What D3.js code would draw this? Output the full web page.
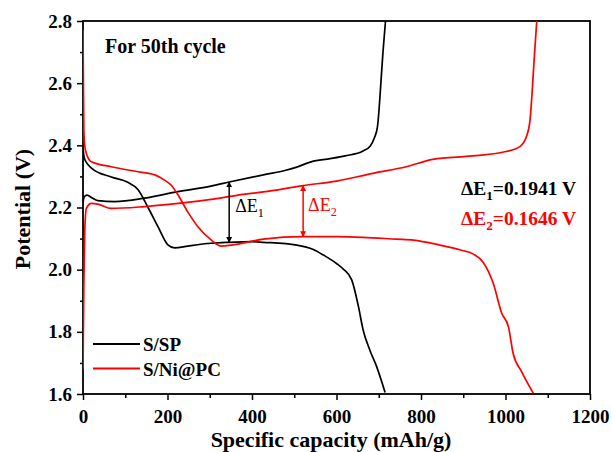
<!DOCTYPE html>
<html>
<head>
<meta charset="utf-8">
<script src="https://cdn.jsdelivr.net/npm/d3@7"></script>
<style>
  html, body { margin: 0; padding: 0; background: #fff; }
  svg { display: block; }
  svg text { font-family: "Liberation Serif", "Tinos", "DejaVu Serif", serif; }
</style>
</head>
<body>
<script>
// Charge / discharge profiles at the 50th cycle: [capacity mAh/g, potential V]
const spCharge = [
  [0, 2.215], [3, 2.235], [10, 2.240], [20, 2.232], [35, 2.222], [75, 2.219],
  [146, 2.230], [225, 2.251], [303, 2.269], [346, 2.282], [427, 2.305],
  [480, 2.320], [506, 2.330], [540, 2.347], [585, 2.357], [620, 2.366],
  [663, 2.382], [680, 2.398], [690, 2.425], [697, 2.46], [701, 2.52],
  [705, 2.6], [710, 2.7], [716, 2.8]
];
const spDischarge = [
  [0, 2.39], [3, 2.36], [8, 2.345], [20, 2.327], [67, 2.298], [106, 2.281],
  [130, 2.258], [154, 2.20], [178, 2.137], [201, 2.08], [217, 2.070],
  [248, 2.076], [303, 2.085], [346, 2.088], [400, 2.090], [427, 2.088],
  [506, 2.079], [545, 2.065], [569, 2.047], [600, 2.020], [616, 2.002],
  [636, 1.967], [652, 1.881], [663, 1.806], [679, 1.741], [695, 1.688],
  [715, 1.605]
];
const pcCharge = [
  [0, 1.68], [2, 1.95], [4, 2.12], [8, 2.197], [20, 2.213], [35, 2.211],
  [67, 2.197], [146, 2.203], [225, 2.213], [303, 2.226], [367, 2.240],
  [427, 2.250], [521, 2.2706], [600, 2.285], [686, 2.310], [765, 2.331],
  [828, 2.355], [922, 2.366], [1001, 2.380], [1034, 2.396], [1050, 2.43],
  [1058, 2.48], [1062, 2.55], [1068, 2.68], [1074, 2.8]
];
const pcDischarge = [
  [0, 2.77], [1, 2.6], [2, 2.45], [4, 2.40], [8, 2.374], [20, 2.347],
  [67, 2.331], [130, 2.315], [170, 2.305], [193, 2.288], [210, 2.27],
  [225, 2.240], [248, 2.186], [272, 2.138], [304, 2.095], [327, 2.076],
  [351, 2.079], [427, 2.098], [521, 2.106], [600, 2.106], [663, 2.104],
  [742, 2.098], [782, 2.095], [845, 2.079], [892, 2.064], [924, 2.050],
  [947, 2.024], [971, 1.956], [991, 1.860], [1007, 1.816], [1018, 1.731],
  [1038, 1.672], [1066, 1.602]
];

// Polarisation gaps: [capacity, discharge potential, ΔE]
const gapSP = [346, 2.088, 0.1941];
const gapPC = [521, 2.106, 0.1646];

const xTicks = [0, 200, 400, 600, 800, 1000, 1200];
const yTicks = [1.6, 1.8, 2.0, 2.2, 2.4, 2.6, 2.8];
const legendLabels = ["S/SP", "S/Ni@PC"];
const colors = ["#000000", "#ff0000"];

const W = 612, H = 452;
const m = { left: 83, top: 21, right: 22, bottom: 58 };
const iw = W - m.left - m.right, ih = H - m.top - m.bottom;
const SERIF = "'Liberation Serif', 'Tinos', 'DejaVu Serif', serif";

const x = d3.scaleLinear().domain([0, 1200]).range([0, iw]);
const y = d3.scaleLinear().domain([1.6, 2.8]).range([ih, 0]);

const svg = d3.select("body").append("svg").attr("width", W).attr("height", H)
  .attr("font-family", SERIF);
const defs = svg.append("defs");
defs.append("clipPath").attr("id", "plot").append("rect")
  .attr("width", iw).attr("height", ih);
colors.forEach((c, i) => {
  defs.append("marker").attr("id", "ah" + i)
    .attr("viewBox", "0 0 10 10").attr("refX", 9).attr("refY", 5)
    .attr("markerWidth", 6).attr("markerHeight", 7)
    .attr("markerUnits", "userSpaceOnUse")
    .attr("orient", "auto-start-reverse")
    .append("path").attr("d", "M0,0 L10,5 L0,10 z").attr("fill", c);
});

const g = svg.append("g").attr("transform", `translate(${m.left},${m.top})`);

// Axes with outward major and minor ticks
const minorX = d3.range(100, 1200, 200);
const minorY = d3.range(1.7, 2.8, 0.2);
g.append("g").attr("transform", `translate(0,${ih})`)
  .call(d3.axisBottom(x).tickValues(xTicks).tickFormat(d3.format("d")).tickSize(6).tickPadding(10));
g.append("g").attr("transform", `translate(0,${ih})`)
  .call(d3.axisBottom(x).tickValues(minorX).tickFormat("").tickSize(4));
g.append("g")
  .call(d3.axisLeft(y).tickValues(yTicks).tickFormat(d3.format(".1f")).tickSize(6).tickPadding(5));
g.append("g")
  .call(d3.axisLeft(y).tickValues(minorY).tickFormat("").tickSize(3));
g.selectAll(".domain").remove();
g.selectAll("g").attr("font-family", SERIF);
g.selectAll(".tick line").attr("stroke", "#000").attr("stroke-width", 1.5);
g.selectAll(".tick text").attr("fill", "#000")
  .style("font-family", SERIF)
  .style("font-size", "19px").style("font-weight", "bold");

// Frame
g.append("rect").attr("width", iw).attr("height", ih)
  .attr("fill", "none").attr("stroke", "#000").attr("stroke-width", 1.8);

// Curves
const line = d3.line().x(d => x(d[0])).y(d => y(d[1])).curve(d3.curveMonotoneX);
const curves = g.append("g").attr("clip-path", "url(#plot)");
[[spCharge, 0], [spDischarge, 0], [pcCharge, 1], [pcDischarge, 1]].forEach(([d, i]) => {
  curves.append("path").datum(d).attr("d", line)
    .attr("fill", "none").attr("stroke", colors[i]).attr("stroke-width", 1.7)
    .attr("stroke-linejoin", "round");
});

// ΔE arrows
[gapSP, gapPC].forEach((gp, i) => {
  g.append("line")
    .attr("x1", x(gp[0])).attr("x2", x(gp[0]))
    .attr("y1", y(gp[1])).attr("y2", y(gp[1] + gp[2]))
    .attr("stroke", colors[i]).attr("stroke-width", 1.5)
    .attr("marker-start", `url(#ah${i})`).attr("marker-end", `url(#ah${i})`);
});

// Labels beside the arrows
function deltaLabel(sel, px, py, idx, color, size, weight, tail) {
  const t = sel.append("text").attr("x", px).attr("y", py)
    .attr("fill", color).style("font-family", SERIF)
    .style("font-size", size + "px").style("font-weight", weight);
  t.append("tspan").text("ΔE");
  t.append("tspan").attr("dy", size * 0.28).style("font-size", (size * 0.68) + "px").text(idx);
  if (tail) t.append("tspan").attr("dy", -size * 0.28).text(tail);
  return t;
}
deltaLabel(g, x(gapSP[0]) + 6, y(2.185), "1", "#000", 18, "normal");
deltaLabel(g, x(gapPC[0]) + 5, y(2.19), "2", "#ff0000", 18, "normal");

// Values of the gaps
deltaLabel(g, 378, 174, "1", "#000", 19.5, "bold", "=" + d3.format(".4f")(gapSP[2]) + " V");
deltaLabel(g, 378, 204, "2", "#ff0000", 19.5, "bold", "=" + d3.format(".4f")(gapPC[2]) + " V");

// Caption inside plot
g.append("text").attr("x", 22).attr("y", 32).style("font-family", SERIF)
  .style("font-size", "20px").style("font-weight", "bold").attr("fill", "#000")
  .text("For 50th cycle");

// Legend
legendLabels.forEach((lab, i) => {
  const ly = 323 + i * 24.5;
  g.append("line").attr("x1", 10).attr("x2", 57).attr("y1", ly).attr("y2", ly)
    .attr("stroke", colors[i]).attr("stroke-width", 1.8);
  g.append("text").attr("x", 60).attr("y", ly + 7).style("font-family", SERIF)
    .style("font-size", "19px").style("font-weight", "bold").attr("fill", "#000")
    .text(lab);
});

// Axis titles
svg.append("text").attr("x", 331).attr("y", 447).attr("text-anchor", "middle")
  .style("font-family", SERIF)
  .style("font-size", "22px").style("font-weight", "bold").attr("fill", "#000")
  .text("Specific capacity (mAh/g)");
svg.append("text").attr("transform", "translate(30,209) rotate(-90)")
  .attr("text-anchor", "middle").style("font-family", SERIF)
  .style("font-size", "22px").style("font-weight", "bold").attr("fill", "#000")
  .text("Potential (V)");
</script>
</body>
</html>
